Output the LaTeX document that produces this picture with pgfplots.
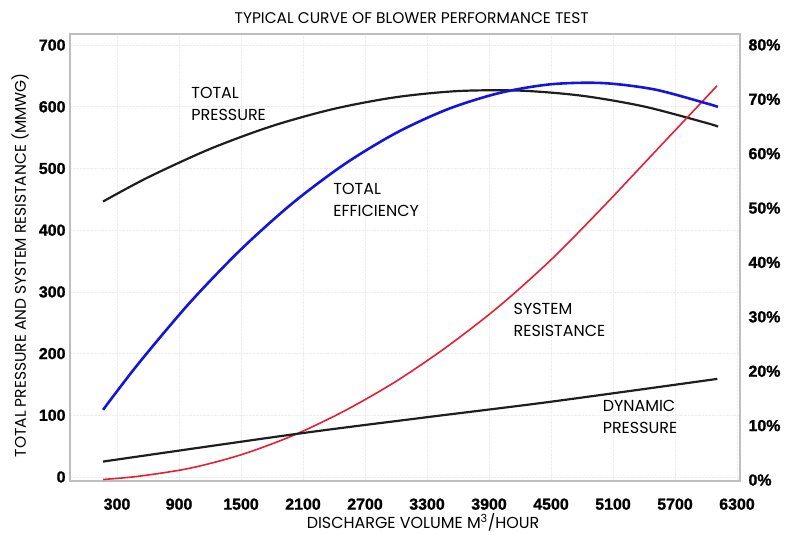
\documentclass[border=0pt]{standalone}
\usepackage{fontspec}
\setmainfont{Poppins}
\newfontfamily\tickfont{Liberation Sans Bold}[FakeBold=1.2]
\usepackage{pgfplots}
\pgfplotsset{compat=1.18}
\definecolor{cblue}{RGB}{20,20,220}
\definecolor{cred}{RGB}{230,30,50}
\definecolor{cblack}{RGB}{30,30,30}
\definecolor{cframe}{RGB}{190,190,190}
\begin{document}
\begin{tikzpicture}
\pgfplotsset{
  base/.style={
    scale only axis, width=670bp, height=447bp,
    xmin=-155, xmax=6329,
    tick label style={font=\tickfont\fontsize{16}{18}\selectfont},
    /pgf/number format/assume math mode=true,
    /pgf/number format/1000 sep={},
    major tick length=0pt,
  }
}
% frame, grid, title and axis titles
\begin{axis}[base,
  ymin=-6.5, ymax=718,
  xtick={300,900,...,6300}, ytick={0,100,...,700},
  xticklabels={}, yticklabels={},
  axis line style={draw=cframe, line width=1.3pt},
  grid=major, major grid style={gray!14, densely dotted, line width=0.6pt},
  title={TYPICAL CURVE OF BLOWER PERFORMANCE TEST},
  title style={at={(axis description cs:0.51,1.022)}, anchor=center, font=\fontsize{15.5}{18}\selectfont},
  xlabel={DISCHARGE VOLUME M\textsuperscript{3}/HOUR},
  xlabel style={at={(axis description cs:0.527,-0.092)}, anchor=center, font=\fontsize{16}{18}\selectfont},
  ylabel={TOTAL PRESSURE AND SYSTEM RESISTANCE (MMWG)},
  ylabel style={at={(axis description cs:-0.0746,0.483)}, anchor=center, font=\fontsize{15.5}{18}\selectfont},
]
\end{axis}
% left and bottom ticks, pressure curves
\begin{axis}[base,
  ymin=-6.5, ymax=718,
  xtick={300,900,1500,2100,2700,3300,3900,4500,5100,5700,6300},
  ytick={0,100,200,300,400,500,600,700},
  xticklabel={\tickfont\pgfmathprintnumber{\tick}},
  yticklabel={\tickfont\pgfmathprintnumber{\tick}},
  axis x line*=bottom, axis y line*=left,
  axis line style={draw=none},
  xticklabel style={yshift=-14bp},
  yticklabel style={xshift=-1bp},
]
% Total pressure
\addplot[cblack, line width=2.2pt, smooth] coordinates {
(165,446.5) (600,485.6) (1200,531.7) (1800,568.8) (2400,596.7) (3000,615.6)
(3600,625.5) (4200,626.2) (4800,617.9) (5400,600.5) (6000,574.0) (6116,567.9)};
% System resistance
\addplot[cred, line width=1.6pt, smooth] coordinates {
(165,-4) (500,1) (1000,14) (1500,36) (2000,67) (2500,107) (3000,155) (3500,212)
(4000,277) (4500,352) (5000,437) (5500,526) (6000,615) (6106,634)};
% Dynamic pressure
\addplot[cblack, line width=2.2pt, smooth] coordinates {
(165,25) (2023,69.5) (3280,96.5) (4500,122) (6110,159)};
\node[anchor=west, align=left, font=\fontsize{16}{22}\selectfont] at (rel axis cs:0.176,0.843) {TOTAL\\PRESSURE};
\node[anchor=west, align=left, font=\fontsize{16}{22}\selectfont] at (rel axis cs:0.388,0.629) {TOTAL\\EFFICIENCY};
\node[anchor=west, align=left, font=\fontsize{16}{22}\selectfont] at (rel axis cs:0.657,0.360) {SYSTEM\\RESISTANCE};
\node[anchor=west, align=left, font=\fontsize{16}{22}\selectfont] at (rel axis cs:0.790,0.143) {DYNAMIC\\PRESSURE};
\end{axis}
% right ticks, efficiency curve
\begin{axis}[base,
  ymin=-0.18, ymax=82,
  axis x line=none, axis y line*=right,
  axis line style={draw=none},
  ytick={0,10,...,80},
  yticklabel={\tickfont\pgfmathprintnumber{\tick}\%},
  yticklabel style={xshift=5bp},
]
\addplot[cblue, line width=2.6pt, smooth] coordinates {
(165,12.9) (500,21.23) (1000,32.51) (1500,42.40) (2000,50.92) (2500,58.05)
(3000,63.80) (3500,68.17) (4000,71.15) (4500,72.76) (5000,72.98) (5500,71.81)
(6000,69.27) (6116,68.6)};
\end{axis}
\pgfresetboundingbox
\path[use as bounding box] (-70bp,-54bp) rectangle (717bp,481bp);
\end{tikzpicture}
\end{document}
